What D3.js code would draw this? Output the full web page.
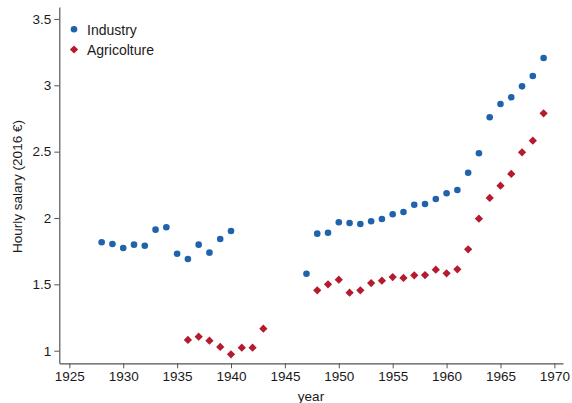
<!DOCTYPE html>
<html>
<head>
<meta charset="utf-8">
<script src="https://cdn.jsdelivr.net/npm/d3@7"></script>
<style>
  body { margin: 0; background: #fff; }
  svg { display: block; font-family: "Liberation Sans", Arial, Helvetica, sans-serif; }
</style>
</head>
<body>
<svg id="chart" width="572" height="403"></svg>
<script>
const industryYears = [1928,1929,1930,1931,1932,1933,1934,1935,1936,1937,1938,1939,1940,
  1947,1948,1949,1950,1951,1952,1953,1954,1955,1956,1957,1958,1959,1960,1961,1962,1963,
  1964,1965,1966,1967,1968,1969];
const industryValues = [1.817,1.804,1.774,1.799,1.791,1.912,1.930,1.731,1.691,1.799,1.739,1.842,1.902,
  1.580,1.882,1.889,1.968,1.962,1.955,1.975,1.992,2.028,2.045,2.100,2.106,2.143,2.186,2.211,2.341,2.488,
  2.759,2.859,2.910,2.992,3.070,3.206];
const agriYears = [1936,1937,1938,1939,1940,1941,1942,1943,
  1948,1949,1950,1951,1952,1953,1954,1955,1956,1957,1958,1959,1960,1961,1962,1963,
  1964,1965,1966,1967,1968,1969];
const agriValues = [1.081,1.106,1.075,1.028,0.973,1.023,1.023,1.166,
  1.455,1.500,1.535,1.437,1.455,1.510,1.528,1.555,1.548,1.568,1.570,1.610,1.583,1.613,1.764,1.995,
  2.151,2.243,2.332,2.495,2.583,2.789];
const xTicks = [1925,1930,1935,1940,1945,1950,1955,1960,1965,1970];
const yTicks = [1,1.5,2,2.5,3,3.5];
const yTickLabels = ["1","1.5","2","2.5","3","3.5"];
const seriesNames = ["Industry","Agricolture"];
const colors = ["#1f63ad","#b51b2e"];

const svg = d3.select("#chart");
const x = d3.scaleLinear().domain([1924.07, 1970.8]).range([59.3, 563]);
const y = d3.scaleLinear().domain([0.905, 3.59]).range([363.3, 7]);

const axisColor = "#555";
const textColor = "#1a1a1a";
const fontFam = "Liberation Sans, Arial, sans-serif";

// X axis
const gx = svg.append("g").attr("transform", "translate(0,363.3)")
  .call(d3.axisBottom(x).tickValues(xTicks).tickFormat(d3.format("d")).tickSize(5).tickPadding(3).tickSizeOuter(0));
gx.select(".domain").attr("stroke", axisColor).attr("stroke-width", 1.2);
gx.selectAll(".tick line").attr("stroke", axisColor).attr("stroke-width", 1);
gx.selectAll(".tick text").attr("fill", textColor).attr("font-size", 13.5).attr("font-family", fontFam);

// Y axis
const gy = svg.append("g").attr("transform", "translate(59.3,0)")
  .call(d3.axisLeft(y).tickValues(yTicks).tickFormat((d, i) => yTickLabels[i]).tickSize(5).tickPadding(3).tickSizeOuter(0));
gy.select(".domain").attr("stroke", axisColor).attr("stroke-width", 1.2);
gy.selectAll(".tick line").attr("stroke", axisColor).attr("stroke-width", 1);
gy.selectAll(".tick text").attr("fill", textColor).attr("font-size", 13.5).attr("font-family", fontFam);

// Axis titles
svg.append("text").attr("x", 311).attr("y", 400.5).attr("text-anchor", "middle")
  .attr("font-size", 13.5).attr("fill", textColor).text("year");
svg.append("text").attr("transform", "translate(21.5,186.5) rotate(-90)").attr("text-anchor", "middle")
  .attr("font-size", 13.5).attr("fill", textColor).text("Hourly salary (2016 €)");

// Industry points
svg.append("g").selectAll("circle").data(industryYears.map((yr, i) => [yr, industryValues[i]]))
  .join("circle")
  .attr("cx", d => x(d[0])).attr("cy", d => y(d[1])).attr("r", 3.3)
  .attr("fill", colors[0]);

// Agriculture points (diamonds)
const diamond = d3.symbol().type(d3.symbolSquare).size(34);
svg.append("g").selectAll("path").data(agriYears.map((yr, i) => [yr, agriValues[i]]))
  .join("path")
  .attr("d", diamond)
  .attr("transform", d => `translate(${x(d[0])},${y(d[1])}) rotate(45)`)
  .attr("fill", colors[1]);

// Legend
const lg = svg.append("g");
lg.append("circle").attr("cx", 74).attr("cy", 29.3).attr("r", 3.3).attr("fill", colors[0]);
lg.append("path").attr("d", diamond).attr("transform", "translate(74,49.5) rotate(45)").attr("fill", colors[1]);
lg.append("text").attr("x", 87).attr("y", 34.5).attr("font-size", 14).attr("fill", textColor).text(seriesNames[0]);
lg.append("text").attr("x", 87).attr("y", 55).attr("font-size", 14).attr("fill", textColor).text(seriesNames[1]);
</script>
</body>
</html>
